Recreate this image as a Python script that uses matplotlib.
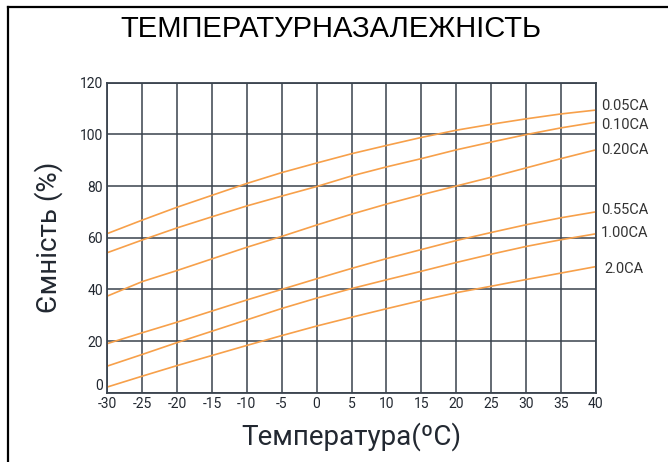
import matplotlib
matplotlib.use("Agg")
import matplotlib.pyplot as plt
from matplotlib.lines import Line2D

plt.rcParams["axes.unicode_minus"] = False

# temperature points (deg C)
temps = [-30, -25, -20, -15, -10, -5, 0, 5, 10, 15, 20, 25, 30, 35, 40]

# capacity (%), one list per discharge rate
cap_005 = [61.6, 66.8, 71.8, 76.4, 81.0, 85.2, 88.9, 92.5, 95.7, 98.8, 101.6, 103.9, 106.0, 107.9, 109.4]
cap_010 = [54.2, 59.1, 63.8, 68.1, 72.3, 76.1, 79.8, 83.9, 87.4, 90.6, 94.0, 97.0, 99.9, 102.5, 104.7]
cap_020 = [37.4, 43.0, 47.3, 51.8, 56.3, 60.5, 64.9, 69.1, 73.0, 76.6, 80.0, 83.4, 87.0, 90.6, 94.0]
cap_055 = [19.0, 23.2, 27.3, 31.6, 35.9, 40.0, 44.1, 48.1, 51.9, 55.4, 58.9, 62.0, 65.0, 67.7, 70.0]
cap_100 = [10.3, 14.8, 19.4, 23.8, 28.2, 32.6, 36.6, 40.3, 43.7, 47.0, 50.4, 53.6, 56.6, 59.2, 61.5]
cap_200 = [2.2, 6.4, 10.5, 14.4, 18.3, 22.1, 25.8, 29.2, 32.5, 35.7, 38.7, 41.2, 43.8, 46.3, 48.8]

series = [cap_005, cap_010, cap_020, cap_055, cap_100, cap_200]
rate_labels = ["0.05CA", "0.10CA", "0.20CA", "0.55CA", "1.00CA", "2.0CA"]

x_ticks = list(range(-30, 41, 5))
y_ticks = list(range(0, 121, 20))

LINE_COLOR = "#f7a04a"
GRID_COLOR = "#3a434e"
TEXT_COLOR = "#222831"
FONT = ["Roboto", "DejaVu Sans"]

# label nudges (points) so the end labels sit like in the reference
label_dx = [4, 4, 4, 4, 4, 6]
label_dy = [3, -2, 0, 1.5, 0.5, -2]

fig = plt.figure(figsize=(6.68, 4.62), dpi=100)
ax = fig.add_axes([0.1606, 0.150, 0.7312, 0.671])

for vals, lab, dx, dy in zip(series, rate_labels, label_dx, label_dy):
    ax.plot(temps, vals, color=LINE_COLOR, lw=1.2)
    ax.annotate(lab, xy=(temps[-1], vals[-1]), xytext=(dx, dy),
                textcoords="offset points", va="center", ha="left",
                fontsize=10.5, color="#333333", family=FONT)

ax.set_xlim(-30, 40)
ax.set_ylim(0, 120)
ax.set_xticks(x_ticks)
ax.set_yticks(y_ticks)
ax.grid(True, color=GRID_COLOR, lw=1.3, alpha=0.85)
ax.set_axisbelow(True)
for sp in ax.spines.values():
    sp.set_color(GRID_COLOR)
    sp.set_linewidth(1.3)
ax.tick_params(length=0, pad=3, labelsize=10, colors=TEXT_COLOR)
for t in ax.get_xticklabels() + ax.get_yticklabels():
    t.set_family(FONT)
# the "0" label sits a bit above the axis line in the reference
ax.get_yticklabels()[0].set_va("bottom")

ax.set_xlabel("Температура(ºC)", fontsize=20, color=TEXT_COLOR,
              family=FONT, labelpad=8)
ax.set_ylabel("Ємність (%)", fontsize=20, color=TEXT_COLOR,
              family=FONT, labelpad=12)

fig.text(0.495, 0.937, "ТЕМПЕРАТУРНАЗАЛЕЖНІСТЬ", ha="center", va="center",
         fontsize=21, color="black",
         family=["Liberation Sans Narrow", "Liberation Sans", "DejaVu Sans"])

# frame drawn only on the left and top of the picture
fig.add_artist(Line2D([0.0127, 0.0127], [0.0, 0.985], color="black", lw=1.6,
                      transform=fig.transFigure))
fig.add_artist(Line2D([0.0127, 1.0], [0.985, 0.985], color="black", lw=1.6,
                      transform=fig.transFigure))

fig.savefig("out.png", dpi=100, facecolor="white")
